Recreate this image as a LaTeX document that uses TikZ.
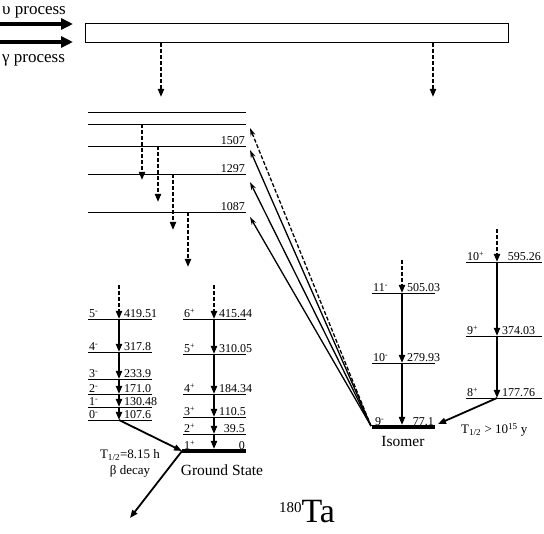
\documentclass[tikz,border=0pt]{standalone}
\usepackage{fontspec}
\setmainfont{Liberation Serif}
\usetikzlibrary{arrows.meta}

\begin{document}
\begin{tikzpicture}[x=1pt,y=-1pt,
    lvl/.style={line width=0.8pt},
    gslvl/.style={line width=3.2pt},
    trans/.style={line width=1.8pt,-{Triangle[length=8pt,width=6pt]}},
    feed/.style={line width=1.8pt,dash pattern=on 4pt off 2pt,-{Triangle[length=8pt,width=6pt]}},
    exc/.style={line width=1.3pt,-{Stealth[length=8pt,width=5pt]}},
    procarrow/.style={line width=4.5pt,-{Triangle[length=12pt,width=11pt]}},
    en/.style={font=\fontsize{12}{13}\selectfont,inner sep=1pt},
    spin/.style={font=\fontsize{12}{13}\selectfont,inner sep=1pt,anchor=south west},
    lbl/.style={font=\fontsize{15.5}{17}\selectfont,inner sep=0pt},
    small/.style={font=\fontsize{13}{14}\selectfont,inner sep=0pt}]
    \useasboundingbox (0,0) rectangle (544,534);
    % incoming processes and the target
    \node[lbl,font=\fontsize{17}{18}\selectfont,anchor=base west] (nu) at (2,15) {υ process};
    \node[lbl,font=\fontsize{17}{18}\selectfont,anchor=base west] (ga) at (2,63) {γ process};
    \node[draw,line width=0.8pt,minimum width=423pt,minimum height=19pt,inner sep=0pt,anchor=north west] (box) at (85,23) {};
    \coordinate (nuin) at (0,24);
    \coordinate (gain) at (0,42);
    \draw[procarrow] (nuin) -- ([xshift=-12pt]box.west |- nuin);
    \draw[procarrow] (gain) -- ([xshift=-12pt]box.west |- gain);
    \coordinate (f1) at (161,97);
    \coordinate (f2) at (433,97);
    \draw[feed] (f1 |- box.south) -- (f1);
    \draw[feed] (f2 |- box.south) -- (f2);
    % high lying levels
    \foreach \i/\y in {1/112,2/124,3/146,4/174,5/212} {
      \draw[lvl] (88,\y) -- (246,\y);
      \coordinate (u\i) at (246,\y);
    }
    \node[en,anchor=south east] at (u3) {1507};
    \node[en,anchor=south east] at (u4) {1297};
    \node[en,anchor=south east] at (u5) {1087};
    \draw[feed] (u2 -| 142,0) -- (142,180);
    \draw[feed] (u3 -| 158,0) -- (158,202);
    \draw[feed] (u4 -| 173,0) -- (173,230);
    \draw[feed] (u5 -| 188,0) -- (188,267);
    % K=0 band (negative parity)
    \foreach \nm/\y/\J/\P/\E in {a5/319/5/-/419.51,a4/352/4/-/317.8,a3/379/3/-/233.9,a2/394/2/-/171.0,a1/407/1/-/130.48,a0/420/0/-/107.6} {
      \draw[lvl] (88,\y) -- (152,\y);
      \node[spin] at (88,\y) {\J\textsuperscript{\P}};
      \node[en,anchor=south west] at (123,\y) {\E};
      \coordinate (\nm) at (119,\y);
    }
    \draw[feed] (119,285) -- (a5);
    \draw[trans] (a5) -- (a4);
    \draw[trans] (a4) -- (a3);
    \draw[trans] (a3) -- (a2);
    \draw[trans] (a2) -- (a1);
    \draw[trans] (a1) -- (a0);
    % ground state band
    \foreach \nm/\y/\J/\E in {g6/319/6/415.44,g5/354/5/310.05,g4/394/4/184.34,g3/417/3/110.5} {
      \draw[lvl] (183,\y) -- (246,\y);
      \node[spin] at (183,\y) {\J\textsuperscript{+}};
      \node[en,anchor=south west] at (218,\y) {\E};
      \coordinate (\nm) at (214,\y);
    }
    \draw[lvl] (183,434) -- (246,434);
    \node[spin] at (183,434) {2\textsuperscript{+}};
    \node[en,anchor=south east] at (246,434) {39.5};
    \coordinate (g2) at (214,434);
    \draw[gslvl] (182,451) -- (246,451);
    \node[spin] at (183,451) {1\textsuperscript{+}};
    \node[en,anchor=south east] at (246,451) {0};
    \coordinate (g1) at (214,449);
    \coordinate (gs) at (182,451);
    \draw[feed] (214,285) -- (g6);
    \draw[trans] (g6) -- (g5);
    \draw[trans] (g5) -- (g4);
    \draw[trans] (g4) -- (g3);
    \draw[trans] (g3) -- (g2);
    \draw[trans] (g2) -- (g1);
    \node[lbl] (gsl) at (222,470) {Ground State};
    % beta decay
    \coordinate (bout) at (130,518);
    \draw[trans] (a0) -- (gs);
    \draw[trans] (gs) -- (bout);
    \node[small] (thalf) at (130,455) {T\textsubscript{1/2}=8.15 h};
    \node[small] (bdec) at (130,471) {β decay};
    % isomer band
    \foreach \nm/\y/\J/\E in {i11/293/11/505.03,i10/363/10/279.93} {
      \draw[lvl] (372,\y) -- (435,\y);
      \node[spin] at (372,\y) {\J\textsuperscript{-}};
      \node[en,anchor=south west] at (406,\y) {\E};
      \coordinate (\nm) at (402,\y);
    }
    \draw[gslvl] (372,427) -- (435,427);
    \node[spin] at (374,427) {9\textsuperscript{-}};
    \node[en,anchor=south east] at (435,427) {77.1};
    \coordinate (i9) at (402,425);
    \coordinate (iso) at (371,426);
    \draw[feed] (402,260) -- (i11);
    \draw[trans] (i11) -- (i10);
    \draw[trans] (i10) -- (i9);
    \node[lbl] (isol) at (403,442) {Isomer};
    % K=8 band
    \draw[lvl] (466,262) -- (542,262);
    \node[spin] at (466,262) {10\textsuperscript{+}};
    \node[en,anchor=south east] at (542,262) {595.26};
    \coordinate (k10) at (497,262);
    \foreach \nm/\y/\J/\E in {k9/336/9/374.03,k8/398/8/177.76} {
      \draw[lvl] (466,\y) -- (542,\y);
      \node[spin] at (466,\y) {\J\textsuperscript{+}};
      \node[en,anchor=south west] at (501,\y) {\E};
      \coordinate (\nm) at (497,\y);
    }
    \draw[feed] (497,229) -- (k10);
    \draw[trans] (k10) -- (k9);
    \draw[trans] (k9) -- (k8);
    \draw[trans] (k8) -- (438,424);
    \node[small,anchor=west] (tiso) at (461,430) {T\textsubscript{1/2} > 10\textsuperscript{15} y};
    % excitation of the isomer
    \draw[exc,dash pattern=on 4pt off 2pt] (iso) -- ([shift={(4,4)}]u2);
    \draw[exc] (iso) -- ([shift={(4,4)}]u3);
    \draw[exc] (iso) -- ([shift={(4,8)}]u4);
    \draw[exc] (iso) -- ([shift={(4,5)}]u5);
    % nucleus
    \node[font=\fontsize{34}{38}\selectfont,inner sep=0pt,anchor=base] (nuc) at (307,523) {\raisebox{10pt}{\fontsize{15}{16}\selectfont 180}Ta};
\end{tikzpicture}
\end{document}
